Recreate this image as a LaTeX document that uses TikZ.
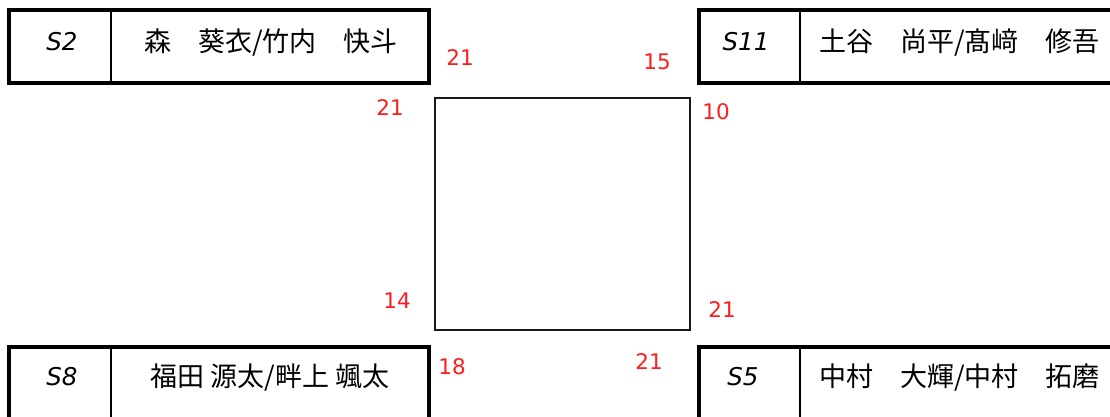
\documentclass[tikz,border=0pt]{standalone}
\usepackage{fontspec}
\setmainfont{Noto Sans CJK JP}
\newfontfamily\jpfont{Noto Sans CJK JP}
\newfontfamily\slfont{DejaVu Sans}
\newfontfamily\numfont{DejaVu Sans}
\definecolor{numred}{RGB}{250,30,30}
\begin{document}
\begin{tikzpicture}[x=1pt,y=-1pt,
  outerbox/.style={draw=black,line width=3.6pt},
  divider/.style={draw=black,line width=2pt},
  court/.style={draw=black!90,line width=2.3pt},
  seed/.style={font=\slfont\itshape\fontsize{24.5}{28}\selectfont,inner sep=0pt},
  names/.style={font=\jpfont\fontsize{27}{30}\selectfont,inner sep=0pt},
  score/.style={font=\numfont\fontsize{21.5}{24}\selectfont,text=numred,inner sep=0pt}]
\useasboundingbox (0,0) rectangle (1110,417);
\clip (0,0) rectangle (1110,417);
% boxes
\draw[outerbox] (9,10) rectangle (429,83);
\draw[divider] (111,10) -- (111,83);
\draw[outerbox] (699,10) rectangle (1130,83);
\draw[divider] (800,10) -- (800,83);
\draw[outerbox] (9,347) rectangle (429,440);
\draw[divider] (111,347) -- (111,440);
\draw[outerbox] (699,347) rectangle (1130,440);
\draw[divider] (800,347) -- (800,440);
% centre court
\node[court,minimum width=255pt,minimum height=232pt,anchor=north west,inner sep=0pt] (ct) at (434,97) {};
% labels
\node[seed] (s2) at (62,42) {S2};
\node[names] (n2) at (271,43) {森　葵衣/竹内　快斗};
\node[seed] (s11) at (746,42) {S11};
\node[names,anchor=west] (n11) at (819,43) {土谷　尚平/髙﨑　修吾};
\node[seed] (s8) at (62,377) {S8};
\node[names] (n8) at (270,378) {福田 源太/畔上 颯太};
\node[seed] (s5) at (743,377) {S5};
\node[names,anchor=west] (n5) at (819,378) {中村　大輝/中村　拓磨};
% scores
\node[score] (a1) at (460,58) {21};
\node[score] (a2) at (657,62) {15};
\node[score] (a3) at (390,108) {21};
\node[score] (a4) at (716,112) {10};
\node[score] (a5) at (397,301) {14};
\node[score] (a6) at (722,310) {21};
\node[score] (a7) at (452,367) {18};
\node[score] (a8) at (649,362) {21};
\end{tikzpicture}
\end{document}
